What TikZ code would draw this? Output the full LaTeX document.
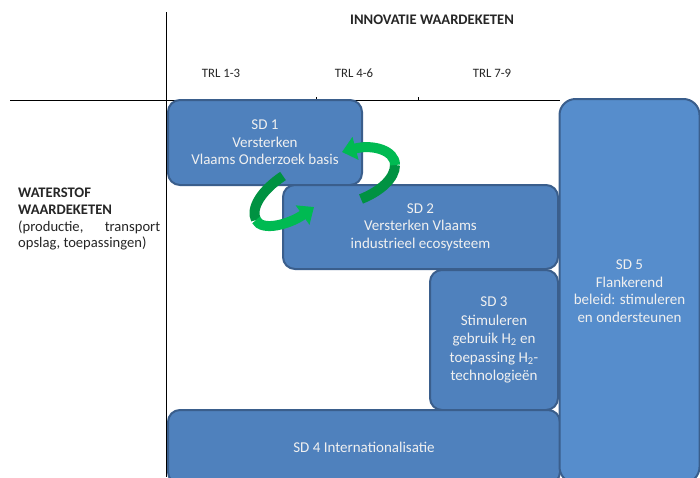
\documentclass[tikz,border=0pt]{standalone}
\usepackage{fontspec}
\setmainfont{Carlito}
\usetikzlibrary{arrows.meta}
\definecolor{sdblue}{RGB}{79,129,189}
\definecolor{sdlight}{RGB}{86,141,204}
\definecolor{sdedge}{RGB}{58,94,140}
\definecolor{loopdark}{RGB}{0,146,66}
\definecolor{looplight}{RGB}{0,186,82}
\tikzset{
  sdbox/.style={draw=sdedge, line width=2pt, fill=sdblue, rounded corners=12pt,
    text=white!94!black, align=center, inner sep=0pt,
    font=\fontsize{15}{17.5}\selectfont},
  trl/.style={font=\fontsize{12.8}{14}\selectfont, text=black!85},
  loopband/.style={line width=10pt},
}

\begin{document}
\begin{tikzpicture}[x=1pt,y=-1pt]
	\fill[white] (0,0) rectangle (700,477);
	\useasboundingbox (0,0) rectangle (700,477);
	\clip (0,0) rectangle (700,477);

	% axes
	\draw (166,12) -- (166,477);
	\draw (10,100) -- (560,100);
	\draw (316,97) -- (316,100);
	\draw (418,97) -- (418,100);

	\node[font=\bfseries\fontsize{14.6}{16}\selectfont, text=black!85] (innovatie) at (432,20) {INNOVATIE WAARDEKETEN};
	\node[trl] (trl1) at (221,73) {TRL 1-3};
	\node[trl] (trl2) at (354,73) {TRL 4-6};
	\node[trl] (trl3) at (492,73) {TRL 7-9};

	\node[anchor=north west, inner sep=0pt, text width=142pt, align=justify,
	  font=\fontsize{14.6}{16.7}\selectfont, text=black!85] (waterstof) at (18,188)
	{\hyphenpenalty=10000 \textbf{WATERSTOF}\\ \textbf{WAARDEKETEN}\\ (productie, transport opslag, toepassingen)};

	% boxes
	\node[sdbox, minimum width=194pt, minimum height=85pt] (sd1) at (265,142.5)
	{SD 1\\ Versterken\\ Vlaams Onderzoek basis};
	\node[sdbox, minimum width=275pt, minimum height=84pt] (sd2) at (420.5,227)
	{SD 2\\ Versterken Vlaams\\ industrieel ecosysteem};
	\node[sdbox, minimum width=128pt, minimum height=140pt,
	  font=\fontsize{15}{18.5}\selectfont] (sd3) at (494,340)
	{SD 3\\ Stimuleren\\ gebruik H\textsubscript{2} en\\ toepassing H\textsubscript{2}-\\ technologieën};
	\node[sdbox, minimum width=392pt, minimum height=74pt] (sd4) at (364,447)
	{SD 4 Internationalisatie};
	\node[sdbox, fill=sdlight, rounded corners=16pt, minimum width=140pt, minimum height=384pt] (sd5) at (629.5,291)
	{SD 5\\ Flankerend\\ beleid: stimuleren\\ en ondersteunen};

	% green loop between SD 1 and SD 2
	\coordinate (rturn) at (395,165);
	\coordinate (lturn) at (256,220);
	\draw[loopband, loopdark] (361,199) .. controls (381,191) and (395,178) .. (rturn);
	\draw[loopband, looplight, -{Triangle[length=14pt,width=23pt]}]
	  (rturn) .. controls (395,150) and (372,144) .. (342,152);
	\draw[loopband, loopdark] (283,176) .. controls (262,190) and (250,208) .. (lturn);
	\draw[loopband, looplight, -{Triangle[length=14pt,width=23pt]}]
	  (lturn) .. controls (262,232) and (290,224) .. (314,207);
\end{tikzpicture}
\end{document}
